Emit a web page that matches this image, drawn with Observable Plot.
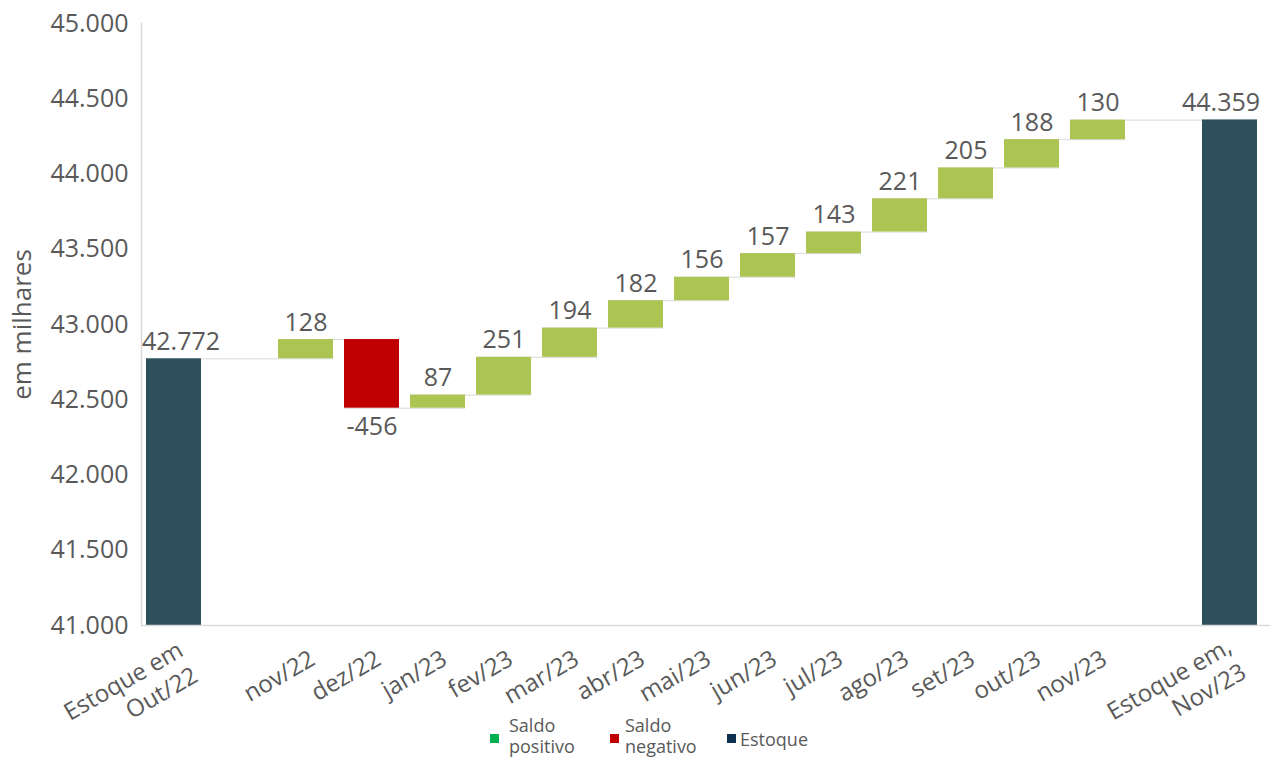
<!DOCTYPE html>
<html><head><meta charset="utf-8">
<script src="https://cdn.jsdelivr.net/npm/d3@7"></script>
<script src="https://cdn.jsdelivr.net/npm/@observablehq/plot@0.6"></script>
<style>
body{margin:0;background:#fff;font-family:"Open Sans",sans-serif;}
#chart{position:relative;width:1274px;height:758px;overflow:hidden;}
#chart svg{overflow:visible;}
#legend{position:absolute;left:0;top:712px;width:1274px;height:46px;}
.sw{position:absolute;width:9px;height:9px;}
.lt{position:absolute;font-size:18px;line-height:21px;color:#595959;white-space:pre;font-family:"Open Sans",sans-serif;}
</style></head><body><div id="chart"></div>
<script>
// ---- data ----
const stockLabels = ["Estoque em\nOut/22", "Estoque em,\nNov/23"];
const months = ["nov/22","dez/22","jan/23","fev/23","mar/23","abr/23","mai/23","jun/23","jul/23","ago/23","set/23","out/23","nov/23"];
const monthlyBalance = [128, -456, 87, 251, 194, 182, 156, 157, 143, 221, 205, 188, 130];
const stockStart = 42772;
const stockEnd = 44359;
const yTicks = [41000, 41500, 42000, 42500, 43000, 43500, 44000, 44500, 45000];
const yLabel = "em milhares";
const legendLabels = ["Saldo\npositivo", "Saldo\nnegativo", "Estoque"];
const legendColors = ["#00b050", "#c00000", "#0e2f4e"];

// ---- build ----
const fmt = d3.formatLocale({decimal: ",", thousands: ".", grouping: [3], currency: ["R$", ""]}).format(",d");
const domain = [stockLabels[0], "__gapA", ...months, "__gapB", stockLabels[1]];
const base = yTicks[0];
const bars = [];
bars.push({cat: stockLabels[0], y1: base, y2: stockStart, kind: "stock", label: fmt(stockStart)});
let level = stockStart;
months.forEach((m, i) => {
  const v = monthlyBalance[i];
  bars.push({cat: m, y1: level, y2: level + v, kind: v >= 0 ? "pos" : "neg", label: String(v)});
  level += v;
});
bars.push({cat: stockLabels[1], y1: base, y2: stockEnd, kind: "stock", label: fmt(stockEnd)});
const connectors = bars.slice(0, -1).map((b, i) => ({x1: b.cat, x2: bars[i + 1].cat, y: b.y2}));
const firstBar = bars[0], lastBar = bars[bars.length - 1];
const monthBars = bars.slice(1, -1);

const txt = "#595959";
const xLab = {frameAnchor: "bottom", rotate: -30, textAnchor: "end", lineAnchor: "middle", lineHeight: 1.22, fontSize: 24, fill: txt};
const plot = Plot.plot({
  width: 1274,
  height: 712,
  marginTop: 23,
  marginBottom: 87,
  marginLeft: 141,
  marginRight: 4,
  style: {fontFamily: "Open Sans, sans-serif", color: txt, background: "#fff", overflow: "visible"},
  x: {domain, paddingInner: 0.174, paddingOuter: 0.14, align: 0.284, axis: null},
  y: {domain: [yTicks[0], yTicks[yTicks.length - 1]], axis: null},
  color: {domain: ["pos", "neg", "stock"], range: ["#abc452", "#c00000", "#2e505d"]},
  marks: [
    Plot.ruleY(connectors, {x1: "x1", x2: "x2", y: "y", stroke: "#d9d9d9", strokeWidth: 1}),
    Plot.rectY(bars, {x: "cat", y1: "y1", y2: "y2", fill: "kind"}),
    Plot.ruleY([base], {stroke: "#d9d9d9", strokeWidth: 1.5}),
    Plot.frame({anchor: "left", stroke: "#d9d9d9", strokeWidth: 1.5}),
    Plot.axisY({ticks: yTicks, tickFormat: fmt, tickSize: 0, tickPadding: 13, fontSize: 25, fill: txt}),
    Plot.text([yLabel], {text: d => d, frameAnchor: "left", textAnchor: "middle", rotate: -90, dx: -119, fontSize: 26, fill: txt}),
    Plot.text(monthBars.filter(b => b.kind !== "neg"), {x: "cat", y: "y2", text: "label", lineAnchor: "bottom", dy: -9, fontSize: 25, fill: txt}),
    Plot.text(monthBars.filter(b => b.kind === "neg"), {x: "cat", y: "y2", text: "label", lineAnchor: "top", dy: 9, fontSize: 25, fill: txt}),
    Plot.text([firstBar], {x: "cat", y: "y2", text: "label", lineAnchor: "bottom", dy: -9, dx: 7, fontSize: 25, fill: txt}),
    Plot.text([lastBar], {x: "cat", y: "y2", text: "label", lineAnchor: "bottom", dy: -9, dx: -9, fontSize: 25, fill: txt}),
    Plot.text(months, {x: d => d, text: d => d, ...xLab, dx: 6, dy: 30}),
    Plot.text([stockLabels[0]], {x: d => d, text: d => d, ...xLab, dx: 13.5, dy: 34}),
    Plot.text([stockLabels[1]], {x: d => d, text: d => d, ...xLab, dx: 6, dy: 30.5})
  ]
});
const chart = document.getElementById("chart");
chart.appendChild(plot);

// legend (below the SVG)
const legend = document.createElement("div");
legend.id = "legend";
const swLeft = [490, 610, 727], txLeft = [509, 625, 740], txTop = [3, 3, 17];
legendLabels.forEach((l, i) => {
  const s = document.createElement("div");
  s.className = "sw"; s.style.left = swLeft[i] + "px"; s.style.top = "22px"; s.style.background = legendColors[i];
  const t = document.createElement("div");
  t.className = "lt"; t.style.left = txLeft[i] + "px"; t.style.top = txTop[i] + "px"; t.textContent = l;
  legend.appendChild(s); legend.appendChild(t);
});
chart.appendChild(legend);
</script>
</body></html>
